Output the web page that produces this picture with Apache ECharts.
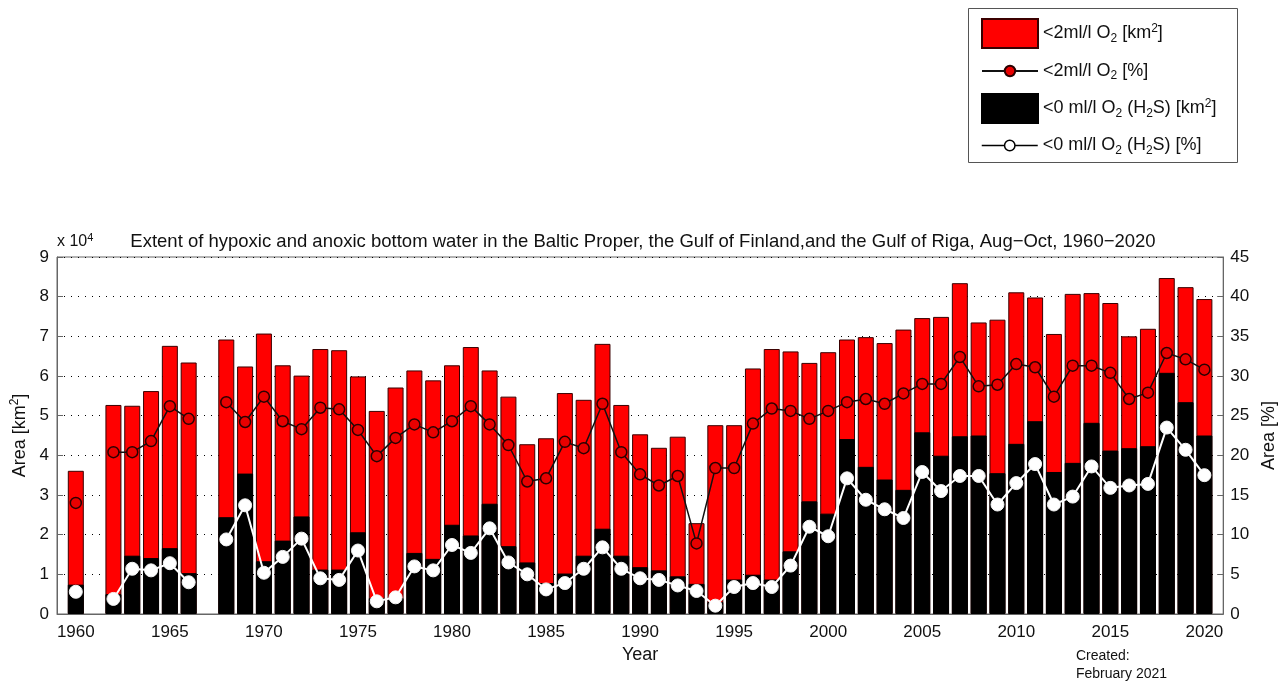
<!DOCTYPE html>
<html>
<head>
<meta charset="utf-8">
<script src="https://cdn.jsdelivr.net/npm/echarts@6/dist/echarts.min.js"></script>
<style>
html,body{margin:0;padding:0;background:#fff;}
#chart{width:1286px;height:682px;}
</style>
</head>
<body>
<div id="chart"></div>
<script>
// ---- data ----
var years = [];
for (var y = 1959; y <= 2021; y++) years.push(String(y));

// <2 ml/l O2 area, km2 (null = no data); index 0 = 1959
var hypoxicKm2 = [null,
  36100, null, 52700, 52500, 56200, 67600, 63400, null, 69200, 62400,
  70700, 62700, 60100, 66800, 66500, 59900, 51200, 57100, 61400, 58900,
  62700, 67300, 61400, 54800, 42800, 44300, 55700, 54000, 68100, 52700,
  45300, 41900, 44700, 22900, 47600, 47600, 61900, 66800, 66200, 63300,
  66000, 69200, 69800, 68300, 71700, 74600, 74900, 83400, 73500, 74200,
  81100, 79800, 70600, 80700, 80900, 78400, 70000, 71900, 84700, 82400,
  79400, null];

// <0 ml/l O2 (H2S) area, km2
var anoxicKm2 = [null,
  7400, null, 5000, 14700, 14100, 16600, 10300, null, 24400, 35400,
  13300, 18500, 24600, 11200, 11200, 20600, 4000, 4000, 15400, 13900,
  22500, 19800, 27800, 17100, 13000, 7800, 10200, 14700, 21500, 14700,
  11800, 11000, 9500, 7600, 3000, 8700, 9900, 8700, 15800, 28400,
  25300, 44100, 37100, 33900, 31300, 45800, 39900, 44800, 45000, 35500,
  42900, 48600, 35800, 38100, 48200, 41200, 41800, 42300, 60800, 53400,
  45000, null];

// <2 ml/l O2 area, % of total area
var hypoxicPct = [null,
  14.0, null, 20.4, 20.4, 21.8, 26.2, 24.6, null, 26.7, 24.2,
  27.4, 24.3, 23.3, 26.0, 25.8, 23.2, 19.9, 22.2, 23.9, 22.9,
  24.3, 26.2, 23.9, 21.3, 16.7, 17.1, 21.7, 20.9, 26.5, 20.4,
  17.6, 16.2, 17.4, 8.9, 18.4, 18.4, 24.0, 25.9, 25.6, 24.6,
  25.6, 26.7, 27.1, 26.5, 27.8, 29.0, 29.0, 32.4, 28.7, 28.9,
  31.5, 31.1, 27.4, 31.3, 31.3, 30.4, 27.1, 27.9, 32.9, 32.1,
  30.8, null];

// <0 ml/l O2 (H2S) area, % of total area
var anoxicPct = [null,
  2.8, null, 1.9, 5.7, 5.5, 6.4, 4.0, null, 9.4, 13.7,
  5.2, 7.2, 9.5, 4.5, 4.3, 8.0, 1.6, 2.1, 6.0, 5.5,
  8.7, 7.7, 10.8, 6.5, 5.0, 3.1, 3.9, 5.7, 8.4, 5.7,
  4.5, 4.3, 3.6, 2.9, 1.05, 3.4, 3.9, 3.4, 6.1, 11.0,
  9.8, 17.1, 14.4, 13.2, 12.1, 17.9, 15.5, 17.4, 17.4, 13.8,
  16.5, 18.9, 13.8, 14.8, 18.6, 15.9, 16.2, 16.4, 23.5, 20.7,
  17.5, null];

var leftTicks = [0, 1, 2, 3, 4, 5, 6, 7, 8, 9];
var titleText = 'Extent of hypoxic and anoxic bottom water in the Baltic Proper, the Gulf of Finland,and the Gulf of Riga, Aug\u2212Oct, 1960\u22122020';

var S1 = '<2ml/l O2 [km2]';
var S2 = '<2ml/l O2 [%]';
var S3 = '<0 ml/l O2 (H2S) [km2]';
var S4 = '<0 ml/l O2 (H2S) [%]';
var legendRich = {};
legendRich[S1] = '{t|<2ml/l O}{sub|2}{t| [km}{sup|2}{t|]}';
legendRich[S2] = '{t|<2ml/l O}{sub|2}{t| [%]}';
legendRich[S3] = '{t|<0 ml/l O}{sub|2}{t| (H}{sub|2}{t|S) [km}{sup|2}{t|]}';
legendRich[S4] = '{t|<0 ml/l O}{sub|2}{t| (H}{sub|2}{t|S) [%]}';

// ---- chart ----
var FONT = 'Liberation Sans, Arial, sans-serif';
var richStyles = {
  t: {fontSize: 18, fontFamily: FONT, color: '#111', lineHeight: 22, verticalAlign: 'middle'},
  sub: {fontSize: 12, fontFamily: FONT, color: '#111', lineHeight: 12, verticalAlign: 'bottom'},
  sup: {fontSize: 12, fontFamily: FONT, color: '#111', lineHeight: 11, verticalAlign: 'top'}
};

function mkLegend(name, top, h, icon, extra) {
  var d = {name: name};
  if (icon) d.icon = icon;
  if (extra) for (var k in extra) d[k] = extra[k];
  return {
    show: true, left: 981, top: top, orient: 'horizontal',
    itemWidth: 56, itemHeight: h, padding: 0, selectedMode: false,
    data: [d],
    formatter: function (n) { return legendRich[n]; },
    textStyle: {rich: richStyles}
  };
}

var chart = echarts.init(document.getElementById('chart'), null, {renderer: 'canvas'});
var option = {
  animation: false,
  backgroundColor: '#fff',
  title: {
    text: titleText, left: 'center', top: 227,
    textStyle: {fontSize: 18.5, fontWeight: 'normal', fontFamily: FONT, color: '#111'}
  },
  legend: [
    mkLegend(S1, 18, 29, 'rect'),
    mkLegend(S2, 62, 13),
    mkLegend(S3, 93, 29, 'rect'),
    mkLegend(S4, 136.5, 13, null, {lineStyle: {color: '#000', width: 1.5}, itemStyle: {color: '#fff', borderColor: '#000', borderWidth: 1.5}})
  ],
  grid: {left: 57, right: 59, top: 257, bottom: 68, show: true, borderColor: '#666', borderWidth: 1, containLabel: false},
  xAxis: {
    type: 'category', data: years, boundaryGap: false,
    name: 'Year', nameLocation: 'middle', nameGap: 31,
    nameTextStyle: {fontSize: 18, fontFamily: FONT, color: '#111'},
    axisLine: {lineStyle: {color: '#666'}},
    axisTick: {inside: true, length: 6, lineStyle: {color: '#666'},
      interval: function (i, v) { return Number(v) % 5 === 0; }},
    axisLabel: {fontSize: 17, fontFamily: FONT, color: '#111', margin: 10,
      interval: function (i, v) { return Number(v) % 5 === 0; }},
    splitLine: {show: false}
  },
  yAxis: [
    {
      type: 'value', min: 0, max: 90000, interval: 10000, position: 'left',
      name: '{t|Area [km}{sup|2}{t|]}', nameLocation: 'middle', nameGap: 24, nameRotate: 90,
      nameTextStyle: {rich: {
        t: {fontSize: 18, fontFamily: FONT, color: '#111', lineHeight: 22},
        sup: {fontSize: 12, fontFamily: FONT, color: '#111', lineHeight: 11, verticalAlign: 'top'}
      }},
      axisLine: {show: true, lineStyle: {color: '#666'}},
      axisTick: {show: true, inside: true, length: 6, lineStyle: {color: '#666'}},
      axisLabel: {fontSize: 17, fontFamily: FONT, color: '#111', margin: 8,
        formatter: function (v) { return String(leftTicks[Math.round(v / 10000)]); }},
      splitLine: {show: true, lineStyle: {color: '#000', type: [1, 6], width: 1}}
    },
    {
      type: 'value', min: 0, max: 45, interval: 5, position: 'right',
      name: 'Area [%]', nameLocation: 'middle', nameGap: 35, nameRotate: 90,
      nameTextStyle: {fontSize: 18, fontFamily: FONT, color: '#111'},
      axisLine: {show: true, lineStyle: {color: '#666'}},
      axisTick: {show: true, inside: true, length: 6, lineStyle: {color: '#666'}},
      axisLabel: {fontSize: 17, fontFamily: FONT, color: '#111', margin: 7},
      splitLine: {show: false}
    }
  ],
  series: [
    {
      name: S1, type: 'bar', data: hypoxicKm2, yAxisIndex: 0, barWidth: 16,
      itemStyle: {color: '#ff0000', borderColor: '#3a0000', borderWidth: 1}
    },
    {
      name: S3, type: 'bar', data: anoxicKm2, yAxisIndex: 0, barWidth: 16, barGap: '-100%',
      itemStyle: {color: '#000000', borderColor: '#000', borderWidth: 1}
    },
    {
      name: S2, type: 'line', data: hypoxicPct, yAxisIndex: 1, connectNulls: false,
      symbol: 'circle', symbolSize: 11, showAllSymbol: true,
      lineStyle: {color: '#111', width: 1.5},
      itemStyle: {color: '#e80000', borderColor: '#2a0000', borderWidth: 1.5}
    },
    {
      name: S4, type: 'line', data: anoxicPct, yAxisIndex: 1, connectNulls: false,
      symbol: 'circle', symbolSize: 13, showAllSymbol: true,
      lineStyle: {color: '#ffffff', width: 2},
      itemStyle: {color: '#ffffff', borderColor: '#f4f4f4', borderWidth: 1}
    }
  ],
  graphic: [
    {type: 'rect', left: 968, top: 8, z: -1, shape: {width: 269, height: 154},
      style: {fill: '#fff', stroke: '#555', lineWidth: 1}},
    {type: 'text', left: 57, top: 232,
      style: {text: '{t|x 10}{sup|4}', rich: {
        t: {fontSize: 16, fontFamily: FONT, fill: '#111', lineHeight: 19},
        sup: {fontSize: 11, fontFamily: FONT, fill: '#111', lineHeight: 10, verticalAlign: 'top'}
      }}},
    {type: 'text', left: 1076, top: 647,
      style: {text: 'Created:\nFebruary 2021', fontSize: 14, lineHeight: 18, fontFamily: FONT, fill: '#111'}}
  ]
};
chart.setOption(option);
</script>
</body>
</html>
